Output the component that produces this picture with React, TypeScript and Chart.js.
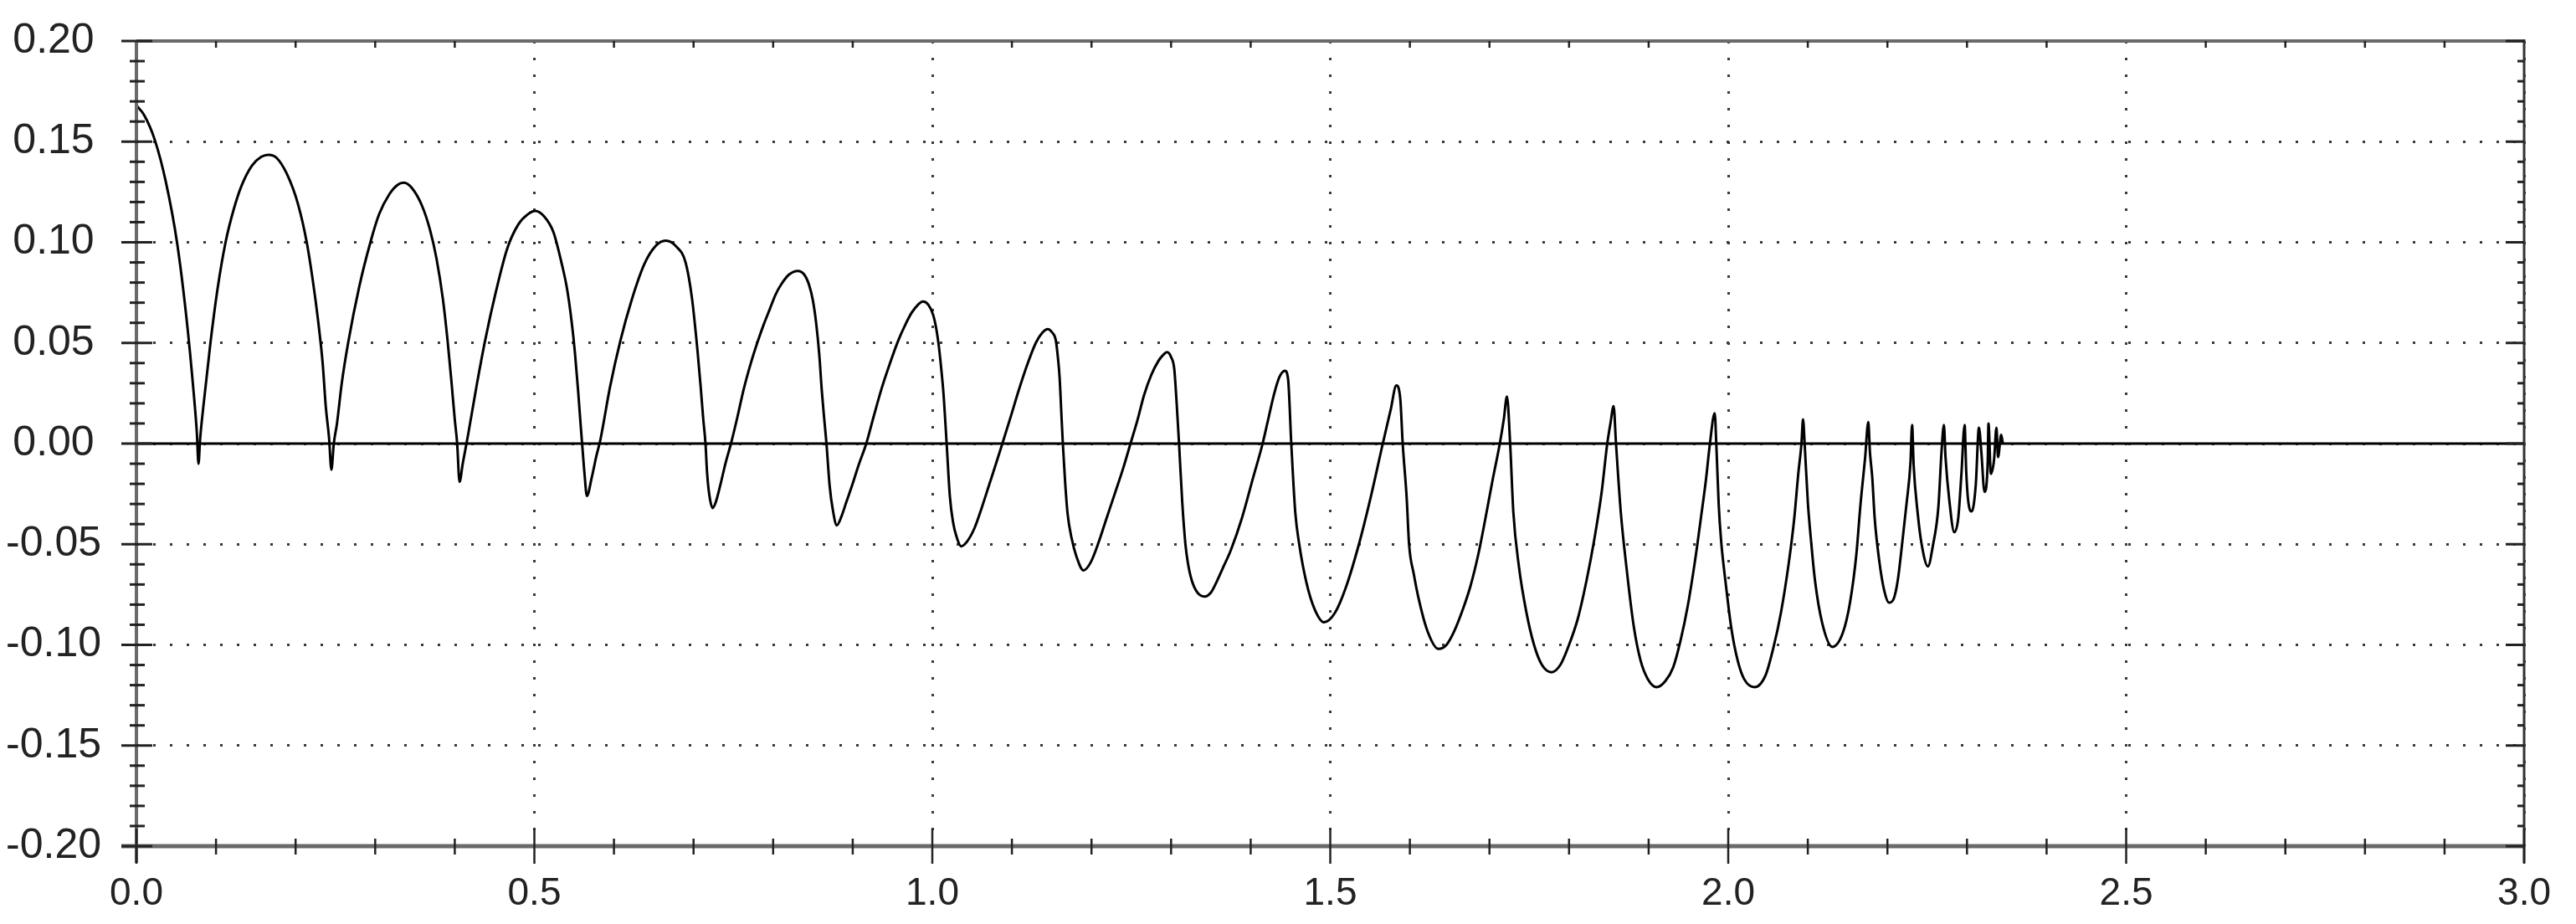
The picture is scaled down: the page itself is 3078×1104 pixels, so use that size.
import React, { useEffect, useRef } from 'react';
import { Chart, registerables } from 'chart.js';

Chart.register(...registerables);

// Axis settings
const xMin = 0;
const xMax = 3;
const xStep = 0.5;
const yMin = -0.2;
const yMax = 0.2;
const yStep = 0.05;

// Curve values, [x, y]
const segmentA: [number, number][] = [
  [0.000, 0.168], [0.010, 0.163], [0.023, 0.151], [0.037, 0.130], [0.051, 0.100], [0.063, 0.062],
  [0.072, 0.025], [0.076, 0.005], [0.078, -0.010], [0.080, 0.002], [0.084, 0.018], [0.093, 0.050],
  [0.102, 0.077], [0.112, 0.100], [0.122, 0.116], [0.132, 0.128], [0.145, 0.138], [0.157, 0.1425],
  [0.166, 0.1435], [0.176, 0.142], [0.189, 0.134], [0.203, 0.119], [0.214, 0.100], [0.222, 0.080],
  [0.228, 0.062], [0.234, 0.040], [0.238, 0.018], [0.242, 0.003], [0.245, -0.013], [0.248, 0.000],
  [0.252, 0.010], [0.258, 0.030], [0.266, 0.050], [0.280, 0.078], [0.294, 0.100], [0.305, 0.114],
  [0.318, 0.124], [0.328, 0.1285], [0.336, 0.1296], [0.346, 0.127], [0.359, 0.118], [0.369, 0.106],
  [0.377, 0.092], [0.385, 0.072], [0.391, 0.051], [0.396, 0.030], [0.400, 0.012], [0.403, 0.000],
  [0.406, -0.019], [0.410, -0.010], [0.417, 0.005], [0.428, 0.030], [0.438, 0.051], [0.452, 0.076],
  [0.466, 0.097], [0.480, 0.109], [0.492, 0.114], [0.501, 0.1156], [0.512, 0.113], [0.524, 0.105],
  [0.534, 0.090], [0.541, 0.077], [0.547, 0.060], [0.551, 0.045], [0.555, 0.026], [0.558, 0.010],
  [0.560, 0.000], [0.563, -0.015], [0.566, -0.026], [0.572, -0.017], [0.578, -0.006], [0.583, 0.002],
  [0.595, 0.028], [0.608, 0.051], [0.622, 0.071], [0.638, 0.089], [0.652, 0.098], [0.665, 0.1008],
  [0.678, 0.098], [0.690, 0.090], [0.698, 0.0723], [0.705, 0.046], [0.709, 0.028], [0.712, 0.013],
  [0.715, 0.000], [0.717, -0.0145], [0.720, -0.026], [0.724, -0.032],
];

const segmentB: [number, number][] = [
  [0.728, -0.029], [0.734, -0.020], [0.740, -0.010], [0.747, 0.000], [0.755, 0.013], [0.763, 0.027],
  [0.772, 0.040], [0.780, 0.050], [0.788, 0.059], [0.796, 0.067], [0.803, 0.074], [0.810, 0.079],
  [0.820, 0.084], [0.831, 0.0858], [0.839, 0.084], [0.845, 0.079], [0.850, 0.071], [0.854, 0.060],
  [0.858, 0.044], [0.861, 0.027], [0.864, 0.013], [0.867, 0.000], [0.871, -0.021], [0.875, -0.033],
  [0.880, -0.0406], [0.886, -0.036], [0.892, -0.029], [0.899, -0.021], [0.908, -0.010], [0.917, 0.000],
  [0.926, 0.013], [0.936, 0.027], [0.946, 0.039], [0.957, 0.051], [0.966, 0.059], [0.974, 0.065],
  [0.982, 0.069], [0.988, 0.0706], [0.995, 0.069], [1.001, 0.064], [1.005, 0.057], [1.008, 0.049],
  [1.011, 0.038], [1.014, 0.025], [1.018, 0.000], [1.022, -0.026], [1.026, -0.039], [1.031, -0.047],
  [1.036, -0.051], [1.043, -0.049], [1.053, -0.042], [1.062, -0.032], [1.071, -0.021], [1.080, -0.010],
  [1.088, 0.000], [1.099, 0.014], [1.109, 0.027], [1.120, 0.040], [1.130, 0.050], [1.138, 0.055],
  [1.145, 0.0569], [1.151, 0.055], [1.155, 0.0516], [1.158, 0.042], [1.160, 0.0324], [1.162, 0.016],
  [1.164, 0.000], [1.167, -0.020], [1.170, -0.035], [1.175, -0.047], [1.181, -0.056], [1.190, -0.063],
  [1.199, -0.059], [1.209, -0.049], [1.219, -0.037], [1.230, -0.024], [1.240, -0.012], [1.249, 0.000],
  [1.258, 0.012], [1.266, 0.024], [1.275, 0.034], [1.284, 0.041], [1.290, 0.044], [1.295, 0.0454],
  [1.300, 0.043], [1.304, 0.037], [1.307, 0.020], [1.310, 0.000], [1.314, -0.029], [1.318, -0.050],
  [1.321, -0.059], [1.326, -0.068], [1.333, -0.074], [1.342, -0.076],
];

const segmentC: [number, number][] = [
  [1.350, -0.074], [1.358, -0.068], [1.366, -0.061], [1.375, -0.053], [1.389, -0.037], [1.403, -0.017],
  [1.415, 0.000], [1.422, 0.012], [1.429, 0.024], [1.436, 0.033], [1.443, 0.0362], [1.447, 0.032],
  [1.451, 0.000], [1.456, -0.034], [1.461, -0.050], [1.470, -0.069], [1.480, -0.082], [1.492, -0.0888],
  [1.506, -0.084], [1.520, -0.071], [1.536, -0.050], [1.550, -0.028], [1.566, 0.000], [1.576, 0.017],
  [1.583, 0.0289], [1.588, 0.022], [1.591, 0.000], [1.596, -0.027], [1.599, -0.050], [1.605, -0.065],
  [1.611, -0.077], [1.622, -0.093], [1.636, -0.102], [1.646, -0.100], [1.656, -0.093], [1.666, -0.083],
  [1.676, -0.071], [1.686, -0.055], [1.695, -0.037], [1.704, -0.018], [1.713, 0.000], [1.718, 0.012],
  [1.722, 0.0234], [1.726, 0.000], [1.730, -0.034], [1.737, -0.061], [1.746, -0.083], [1.756, -0.100],
  [1.766, -0.110], [1.778, -0.1136], [1.789, -0.110], [1.799, -0.101], [1.811, -0.087], [1.822, -0.068],
  [1.832, -0.047], [1.841, -0.024], [1.848, 0.000], [1.852, 0.010], [1.856, 0.0186], [1.859, 0.000],
  [1.865, -0.034], [1.872, -0.061], [1.881, -0.090], [1.890, -0.108], [1.899, -0.117], [1.910, -0.121],
  [1.921, -0.118], [1.931, -0.111], [1.940, -0.098], [1.949, -0.081], [1.958, -0.059], [1.966, -0.036],
  [1.972, -0.018], [1.977, 0.000], [1.983, 0.0151], [1.985, 0.000], [1.988, -0.030], [1.991, -0.048],
  [1.997, -0.070], [2.004, -0.092], [2.012, -0.108], [2.020, -0.117], [2.033, -0.121],
];

const segmentD: [number, number][] = [
  [2.047, -0.115], [2.057, -0.101], [2.066, -0.0845], [2.076, -0.0595], [2.083, -0.037], [2.088, -0.015],
  [2.092, 0.000], [2.094, 0.0121], [2.096, 0.000], [2.100, -0.029], [2.104, -0.048], [2.109, -0.068],
  [2.118, -0.089], [2.131, -0.101], [2.144, -0.094], [2.153, -0.079], [2.161, -0.055], [2.166, -0.031],
  [2.172, -0.007], [2.176, 0.0107], [2.178, -0.004], [2.181, -0.017], [2.184, -0.037], [2.190, -0.059],
  [2.196, -0.073], [2.202, -0.079], [2.208, -0.077], [2.213, -0.068], [2.219, -0.048], [2.224, -0.030],
  [2.229, -0.0094], [2.231, 0.0093], [2.233, -0.011], [2.238, -0.0344], [2.243, -0.050], [2.251, -0.061],
  [2.257, -0.051], [2.264, -0.0317], [2.268, -0.004], [2.271, 0.0093], [2.273, -0.0067], [2.278, -0.029],
  [2.284, -0.044], [2.289, -0.037], [2.293, -0.015], [2.297, 0.0093], [2.299, -0.0136], [2.302, -0.030],
  [2.306, -0.0337], [2.311, -0.0206], [2.315, 0.0079], [2.318, -0.004], [2.322, -0.024], [2.326, -0.0094],
  [2.327, 0.010], [2.330, -0.015], [2.334, -0.008], [2.337, 0.0079], [2.339, -0.0067], [2.343, 0.0044],
  [2.345, 0.000],
];

const W = 3078;
const H = 1104;

const framePlugin = {
  id: 'framePlugin',
  beforeDatasetsDraw(chart: any) {
    const { ctx, chartArea, scales } = chart;
    const y0 = scales.y.getPixelForValue(0);
    ctx.save();
    ctx.strokeStyle = '#000';
    ctx.lineWidth = 3;
    ctx.beginPath();
    ctx.moveTo(chartArea.left, y0);
    ctx.lineTo(chartArea.right, y0);
    ctx.stroke();
    ctx.restore();
  },
  afterDatasetsDraw(chart: any) {
    const { ctx, chartArea, scales } = chart;
    const { left, right, top, bottom } = chartArea;
    ctx.save();
    // frame
    ctx.lineCap = 'butt';
    ctx.strokeStyle = '#6a6a6a';
    ctx.lineWidth = 5;
    ctx.beginPath();
    ctx.moveTo(left - 18, bottom);
    ctx.lineTo(right, bottom);
    ctx.stroke();
    ctx.lineWidth = 4;
    ctx.beginPath();
    ctx.moveTo(left, top);
    ctx.lineTo(left, bottom + 20);
    ctx.stroke();
    ctx.beginPath();
    ctx.moveTo(left, top);
    ctx.lineTo(right, top);
    ctx.stroke();
    ctx.strokeStyle = '#333';
    ctx.lineWidth = 3;
    ctx.beginPath();
    ctx.moveTo(right, top - 2);
    ctx.lineTo(right, bottom + 20);
    ctx.stroke();

    // y ticks (left and right)
    ctx.strokeStyle = '#222';
    ctx.lineWidth = 3;
    for (let i = -20; i <= 20; i++) {
      const py = scales.y.getPixelForValue(i / 100);
      const major = i % 5 === 0;
      ctx.beginPath();
      if (major) {
        ctx.moveTo(left - 18, py);
        ctx.lineTo(left + 19, py);
      } else {
        ctx.moveTo(left - 8, py);
        ctx.lineTo(left + 10, py);
      }
      ctx.stroke();
      ctx.beginPath();
      ctx.moveTo(right - (major ? 22 : 8), py);
      ctx.lineTo(right, py);
      ctx.stroke();
    }
    // x ticks (bottom and top)
    ctx.lineWidth = 2.5;
    for (let i = 0; i <= 30; i++) {
      const px = scales.x.getPixelForValue(i / 10);
      const major = i % 5 === 0;
      ctx.beginPath();
      if (major) {
        ctx.moveTo(px, bottom - 21);
        ctx.lineTo(px, bottom + 21);
      } else {
        ctx.moveTo(px, bottom - 9);
        ctx.lineTo(px, bottom + 10);
      }
      ctx.stroke();
      if (!major) {
        ctx.beginPath();
        ctx.moveTo(px, top);
        ctx.lineTo(px, top + 8);
        ctx.stroke();
      }
    }
    ctx.restore();
  },
};

export default function App() {
  const canvasRef = useRef<HTMLCanvasElement | null>(null);

  useEffect(() => {
    const canvas = canvasRef.current;
    if (!canvas) return;
    const points = [...segmentA, ...segmentB, ...segmentC, ...segmentD].map(([x, y]) => ({ x, y }));
    const chart = new Chart(canvas, {
      type: 'line',
      data: {
        datasets: [
          {
            data: points,
            borderColor: '#000',
            borderWidth: 3,
            pointRadius: 0,
            fill: false,
            cubicInterpolationMode: 'monotone',
          },
        ],
      },
      options: {
        animation: false,
        responsive: false,
        devicePixelRatio: 1,
        layout: { padding: { left: 0, right: 42, top: 49, bottom: 0 } },
        plugins: {
          legend: { display: false },
          tooltip: { enabled: false },
        },
        scales: {
          x: {
            type: 'linear',
            min: xMin,
            max: xMax,
            border: { display: false, dash: [3, 17] },
            grid: { drawTicks: false, color: '#3a3a3a', lineWidth: 3 },
            ticks: {
              stepSize: xStep,
              autoSkip: false,
              maxRotation: 0,
              padding: 30,
              color: '#222',
              font: { family: "'Liberation Sans', Arial, sans-serif", size: 46 },
              callback: (v: any) => Number(v).toFixed(1),
            },
            afterFit: (s: any) => {
              s.height = 93;
            },
          },
          y: {
            type: 'linear',
            min: yMin,
            max: yMax,
            border: { display: false, dash: [3, 17] },
            grid: { drawTicks: false, color: '#3a3a3a', lineWidth: 3 },
            ticks: {
              stepSize: yStep,
              autoSkip: false,
              crossAlign: 'center',
              padding: 42,
              color: '#222',
              font: { family: "'Liberation Sans', Arial, sans-serif", size: 50 },
              callback: (v: any) => {
                const n = Number(v);
                return Math.abs(n) < 1e-9 ? '0.00' : n.toFixed(2);
              },
            },
            afterFit: (s: any) => {
              s.width = 163;
              s.paddingTop = 0;
              s.paddingBottom = 0;
            },
          },
        },
      },
      plugins: [framePlugin],
    } as any);
    return () => chart.destroy();
  }, []);

  return (
    <div style={{ position: 'absolute', left: 0, top: 0, width: W, height: H, background: '#fff' }}>
      <canvas ref={canvasRef} width={W} height={H} style={{ display: 'block', width: W, height: H }} />
    </div>
  );
}
